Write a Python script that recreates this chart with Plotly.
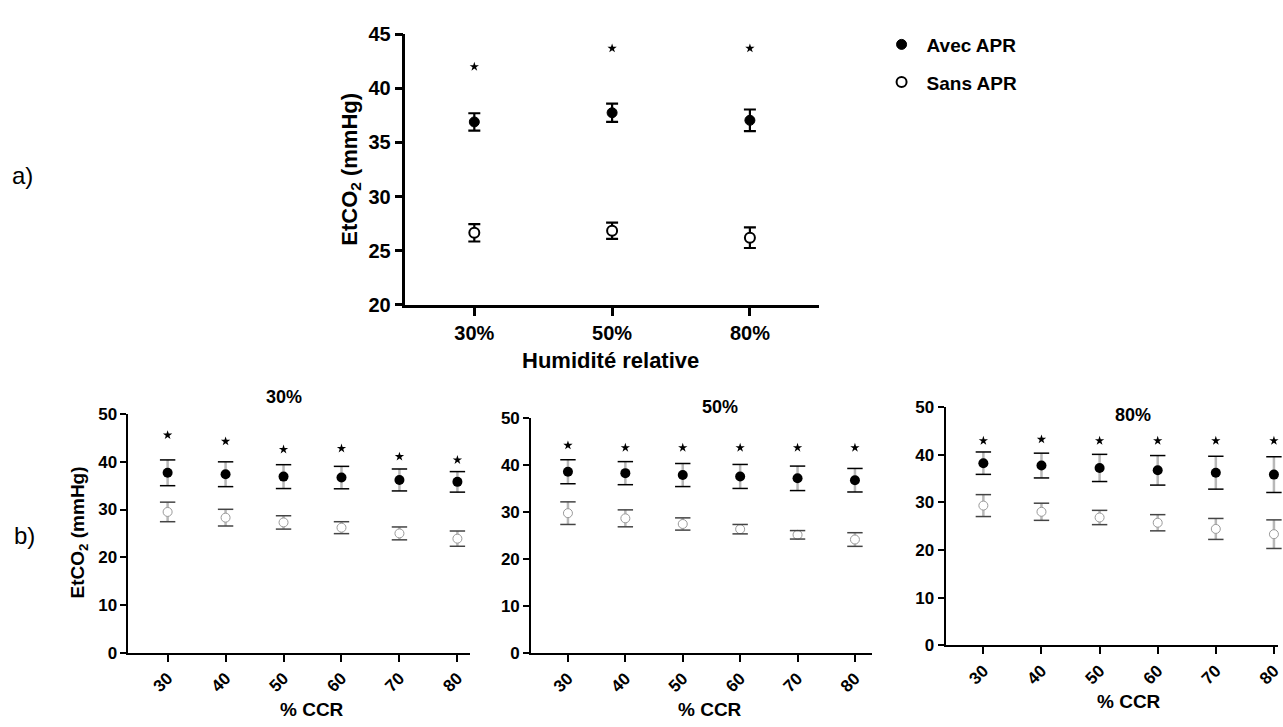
import plotly.graph_objects as go

W, H = 1283, 727

# ---------------- data ----------------
hr_cats = ["30%", "50%", "80%"]
avec_top = [36.9, 37.75, 37.05]
avec_top_err = [0.8, 0.85, 1.0]
sans_top = [26.65, 26.85, 26.2]
sans_top_err = [0.8, 0.75, 0.95]
star_top = [42.0, 43.7, 43.7]

ccr_cats = ["30", "40", "50", "60", "70", "80"]

avec_30 = [37.7, 37.4, 36.9, 36.7, 36.2, 35.8]
avec_30_sd = [2.7, 2.6, 2.5, 2.35, 2.3, 2.15]
sans_30 = [29.5, 28.3, 27.3, 26.2, 25.0, 23.9]
sans_30_sd = [2.05, 1.75, 1.4, 1.25, 1.35, 1.6]
star_30 = [45.6, 44.3, 42.6, 42.8, 41.1, 40.4]

avec_50 = [38.5, 38.2, 37.8, 37.5, 37.1, 36.7]
avec_50_sd = [2.55, 2.45, 2.45, 2.55, 2.6, 2.5]
sans_50 = [29.7, 28.6, 27.4, 26.3, 25.1, 24.1]
sans_50_sd = [2.4, 1.8, 1.3, 1.0, 0.9, 1.45]
star_50 = [44.1, 43.6, 43.6, 43.6, 43.6, 43.6]

avec_80 = [38.2, 37.7, 37.2, 36.7, 36.2, 35.8]
avec_80_sd = [2.35, 2.6, 2.85, 3.1, 3.45, 3.75]
sans_80 = [29.3, 28.0, 26.8, 25.7, 24.4, 23.3]
sans_80_sd = [2.3, 1.8, 1.5, 1.7, 2.2, 3.0]
star_80 = [42.9, 43.2, 42.9, 42.9, 42.9, 42.9]

# ---------------- helpers ----------------
def px(x):
    return x / W

def py(y):
    return 1 - y / H

ARIAL = "Liberation Sans, Arial, sans-serif"

fig = go.Figure()

# ---------------- top panel ----------------
fig.add_trace(go.Scatter(
    x=hr_cats, y=avec_top, mode="markers", name="Avec APR",
    marker=dict(symbol="circle", size=10, color="black", line=dict(color="black", width=1)),
    error_y=dict(type="data", array=avec_top_err, color="black", thickness=2.2, width=6),
    xaxis="x", yaxis="y", legendgroup="a", cliponaxis=False))
fig.add_trace(go.Scatter(
    x=hr_cats, y=sans_top, mode="markers", name="Sans APR",
    marker=dict(symbol="circle", size=10, color="white", line=dict(color="black", width=2)),
    error_y=dict(type="data", array=sans_top_err, color="black", thickness=2.2, width=6),
    xaxis="x", yaxis="y", legendgroup="b", cliponaxis=False))
fig.add_trace(go.Scatter(
    x=hr_cats, y=star_top, mode="markers", showlegend=False,
    marker=dict(symbol="star", size=7, color="black"),
    xaxis="x", yaxis="y", cliponaxis=False))

# ---------------- bottom panels ----------------
panels = [
    (avec_30, avec_30_sd, sans_30, sans_30_sd, star_30, "x2", "y2"),
    (avec_50, avec_50_sd, sans_50, sans_50_sd, star_50, "x3", "y3"),
    (avec_80, avec_80_sd, sans_80, sans_80_sd, star_80, "x4", "y4"),
]
for av, avsd, sa, sasd, st, xa, ya in panels:
    fig.add_trace(go.Scatter(
        x=ccr_cats, y=sa, mode="markers", showlegend=False,
        marker=dict(symbol="circle", size=9, color="white", line=dict(color="#9a9a9a", width=1)),
        error_y=dict(type="data", array=sasd, color="#b8b8b8", thickness=2.5, width=0),
        xaxis=xa, yaxis=ya, cliponaxis=False))
    fig.add_trace(go.Scatter(
        x=ccr_cats, y=av, mode="markers", showlegend=False,
        marker=dict(symbol="circle", size=10, color="black"),
        error_y=dict(type="data", array=avsd, color="#b8b8b8", thickness=2.5, width=0),
        xaxis=xa, yaxis=ya, cliponaxis=False))
    sa_caps = [m + s for m, s in zip(sa, sasd)] + [m - s for m, s in zip(sa, sasd)]
    av_caps = [m + s for m, s in zip(av, avsd)] + [m - s for m, s in zip(av, avsd)]
    fig.add_trace(go.Scatter(
        x=ccr_cats + ccr_cats, y=sa_caps, mode="markers", showlegend=False,
        marker=dict(symbol="line-ew", size=11, line=dict(color="#444444", width=1.5)),
        xaxis=xa, yaxis=ya, cliponaxis=False))
    fig.add_trace(go.Scatter(
        x=ccr_cats + ccr_cats, y=av_caps, mode="markers", showlegend=False,
        marker=dict(symbol="line-ew", size=11, line=dict(color="black", width=1.5)),
        xaxis=xa, yaxis=ya, cliponaxis=False))
    fig.add_trace(go.Scatter(
        x=ccr_cats, y=st, mode="markers", showlegend=False,
        marker=dict(symbol="star", size=7, color="black"),
        xaxis=xa, yaxis=ya, cliponaxis=False))

# ---------------- axes ----------------
def xax(domain, rng, anchor, tickangle=0, fontsize=17, ticklen=7, lw=2):
    return dict(domain=domain, range=rng, anchor=anchor, type="category",
                showline=True, linecolor="black", linewidth=lw,
                ticks="outside", ticklen=ticklen, tickwidth=lw, tickcolor="black",
                showgrid=False, zeroline=False, tickangle=tickangle,
                tickfont=dict(family=ARIAL, size=fontsize, color="black", weight="bold"))

def yax(domain, rng, anchor, dtick, fontsize=17, ticklen=6, lw=2):
    return dict(domain=domain, range=rng, anchor=anchor, dtick=dtick,
                showline=True, linecolor="black", linewidth=lw,
                ticks="outside", ticklen=ticklen, tickwidth=lw, tickcolor="black",
                showgrid=False, zeroline=False,
                tickfont=dict(family=ARIAL, size=fontsize, color="black", weight="bold"))

layout = dict(
    width=W, height=H,
    margin=dict(l=0, r=0, t=0, b=0),
    paper_bgcolor="white", plot_bgcolor="white",
    showlegend=True,
    legend=dict(x=px(880), y=py(15), xanchor="left", yanchor="top",
                font=dict(family=ARIAL, size=19, color="black", weight="bold"),
                bgcolor="rgba(0,0,0,0)", tracegroupgap=10, traceorder="grouped",
                itemwidth=40),
    xaxis=xax([px(407), px(822)], [-0.5, 2.5], "y", fontsize=20, ticklen=8, lw=2.5),
    yaxis=yax([py(303), py(24)], [20, 45], "x", 5, fontsize=20, ticklen=8, lw=2.5),
    xaxis2=xax([px(129), px(472)], [-0.675, 5.22], "y2", tickangle=-45),
    yaxis2=yax([py(661.7), py(415.7)], [0, 50], "x2", 10),
    xaxis3=xax([px(533.3), px(875)], [-0.64, 5.29], "y3", tickangle=-45),
    yaxis3=yax([py(662), py(419.3)], [0, 50], "x3", 10),
    xaxis4=xax([px(949.3), 1.0], [-0.65, 5.07], "y4", tickangle=-45),
    yaxis4=yax([py(654), py(408.3)], [0, 50], "x4", 10),
)

def ann(text, x, y, size, bold=True, angle=0):
    return dict(text=text, x=px(x), y=py(y), xref="paper", yref="paper",
                showarrow=False, textangle=angle, xanchor="center", yanchor="middle",
                font=dict(family=ARIAL, size=size, color="black",
                          weight="bold" if bold else "normal"))

layout["annotations"] = [
    ann("EtCO<sub>2</sub> (mmHg)", 352, 163, 22, angle=-90),
    ann("Humidité relative", 613, 360, 22),
    ann("EtCO<sub>2</sub> (mmHg)", 79, 538, 19, angle=-90),
    ann("% CCR", 313, 720, 19),
    ann("% CCR", 713, 720, 19),
    ann("% CCR", 1133, 712, 19),
    ann("30%", 285, 398, 18),
    ann("50%", 723, 408, 18),
    ann("80%", 1137, 417, 18),
    ann("a)", 23, 170, 24, bold=False),
    ann("b)", 25, 541, 24, bold=False),
]

fig.update_layout(**layout)
fig.write_html("out.html")
